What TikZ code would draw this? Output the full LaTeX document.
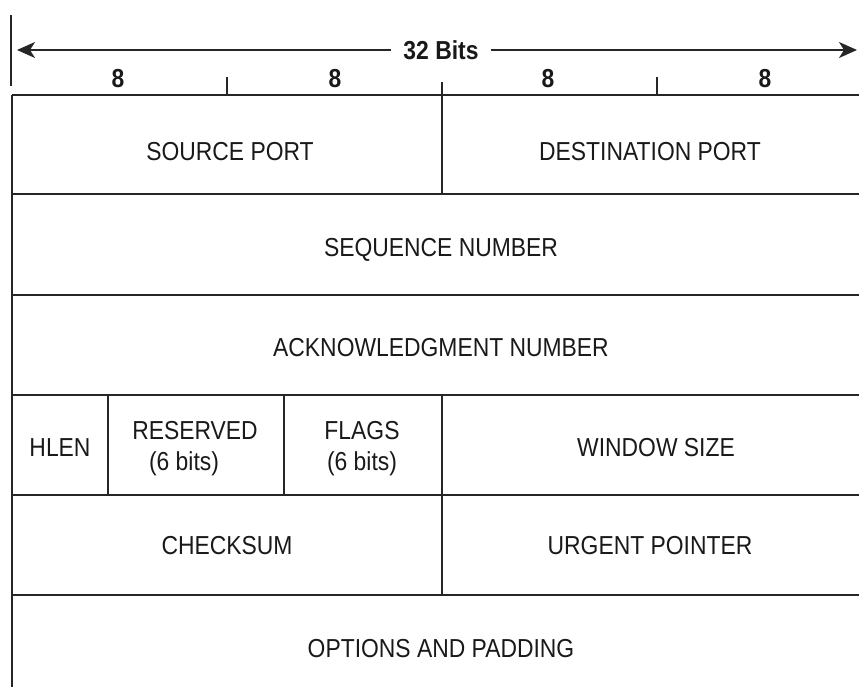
\documentclass[tikz,border=0pt]{standalone}
\usepackage{fontspec}
\setmainfont{Liberation Sans}[FakeStretch=0.88]
\usetikzlibrary{arrows.meta}
\begin{document}
\begin{tikzpicture}[x=1pt,y=-1pt,
  rule/.style={draw=black!85,line width=1.6pt},
  field/.style={font=\fontsize{26}{30}\selectfont,text=black!90,inner sep=0pt,align=center},
  bitlbl/.style={font=\fontsize{26}{30}\selectfont\bfseries,text=black!90,inner sep=0pt},
  widtharrow/.style={draw=black!85,line width=1.8pt,-{Stealth[length=18pt,width=16pt,inset=5pt]}}]
\useasboundingbox (0,0) rectangle (859,687);
% width arrow
\coordinate (aL) at (17,50);
\coordinate (aR) at (857,50);
\node[bitlbl,fill=white,inner xsep=12pt] (bits) at (441,50) {32 Bits};
\draw[widtharrow] (bits.west |- aL) -- (aL);
\draw[widtharrow] (bits.east |- aR) -- (aR);
% left marker line
\draw[rule] (11,15) -- (11,86);
% byte labels and ticks
\node[bitlbl] (b1) at (118,79) {8};
\node[bitlbl] (b2) at (335,79) {8};
\node[bitlbl] (b3) at (548,79) {8};
\node[bitlbl] (b4) at (765,79) {8};
\draw[rule] (227,77) -- (227,95);
\draw[rule] (442,82) -- (442,95);
\draw[rule] (657,77) -- (657,95);
% frame
\draw[rule] (12,95) -- (12,687);
\foreach \yy in {95,194,295,395,495,595} \draw[rule] (12,\yy) -- (859,\yy);
% vertical dividers
\draw[rule] (442,95) -- (442,194);
\draw[rule] (108,395) -- (108,495);
\draw[rule] (284,395) -- (284,495);
\draw[rule] (442,395) -- (442,595);
% fields
\node[field] (src) at (230,152) {SOURCE PORT};
\node[field] (dst) at (650,152) {DESTINATION PORT};
\node[field] (seq) at (441,250) {SEQUENCE NUMBER};
\node[field] (ack) at (441,348) {ACKNOWLEDGMENT NUMBER};
\node[field] (hlen) at (60,448) {HLEN};
\node[field] (res) at (195,431) {RESERVED};
\node[field] (resb) at (184,464) {(6 bits)};
\node[field] (flags) at (362,431) {FLAGS};
\node[field] (flagsb) at (362,464) {(6 bits)};
\node[field] (win) at (656,448) {WINDOW SIZE};
\node[field] (chk) at (227,546) {CHECKSUM};
\node[field] (urg) at (650,546) {URGENT POINTER};
\node[field] (opt) at (441,649) {OPTIONS AND PADDING};
\end{tikzpicture}
\end{document}
